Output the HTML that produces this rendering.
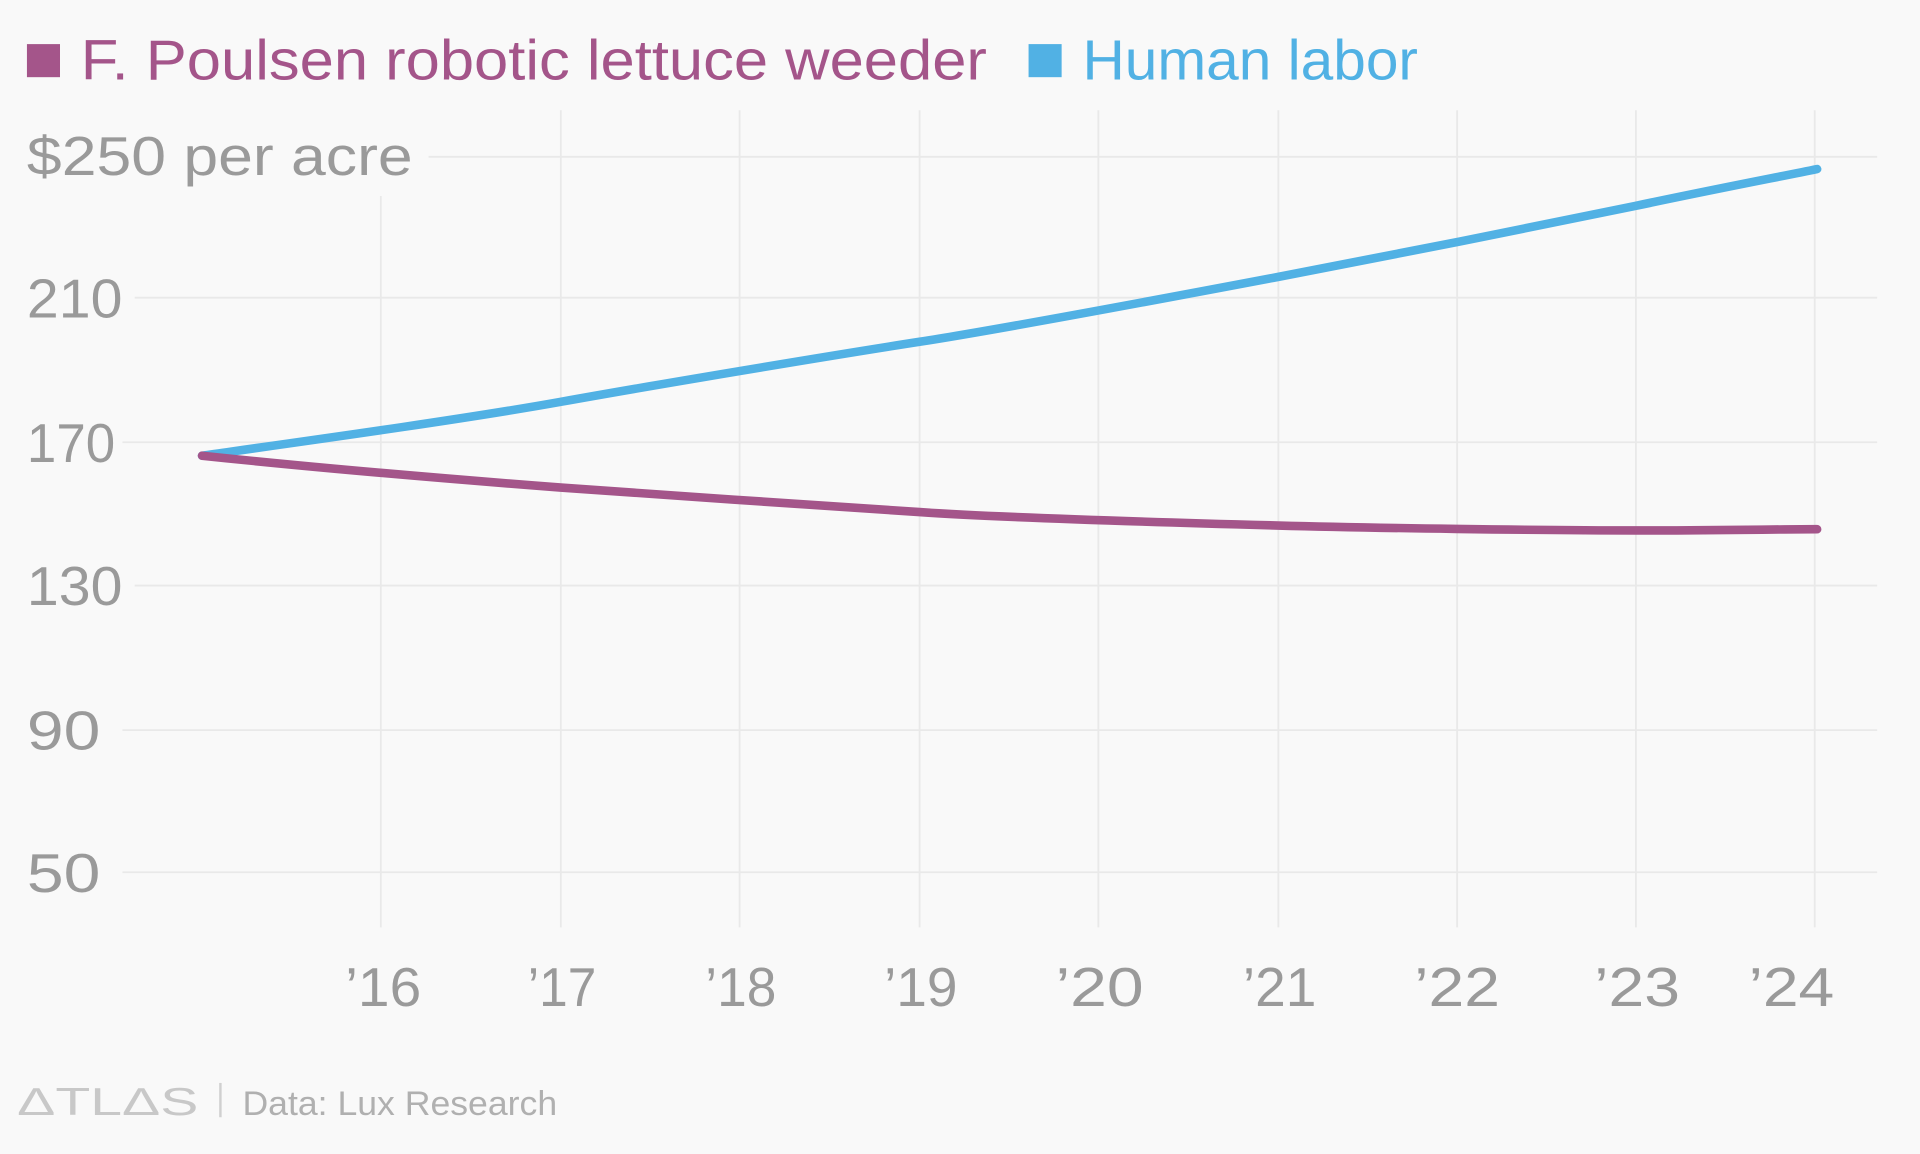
<!DOCTYPE html>
<html><head><style>html,body{margin:0;padding:0;background:#f9f9f9;}svg{display:block}</style></head><body>
<svg width="1920" height="1154" viewBox="0 0 1568 942" preserveAspectRatio="none" xmlns="http://www.w3.org/2000/svg" font-family="Liberation Sans, sans-serif">
<rect width="1568" height="942" fill="#f9f9f9"/>
<rect x="22" y="36" width="27" height="27" fill="#a4558a"/>
<text x="66" y="65" font-size="46" fill="#a4558a" textLength="740" lengthAdjust="spacingAndGlyphs">F. Poulsen robotic lettuce weeder</text>
<rect x="840" y="36" width="27" height="27" fill="#51b1e4"/>
<text x="884" y="65" font-size="46" fill="#51b1e4" textLength="274" lengthAdjust="spacingAndGlyphs">Human labor</text>
<g stroke="#e9e9e9" stroke-width="1.5">
<line x1="350" y1="128" x2="1533" y2="128"/>
<line x1="110" y1="243" x2="1533" y2="243"/>
<line x1="100" y1="361" x2="1533" y2="361"/>
<line x1="110" y1="478" x2="1533" y2="478"/>
<line x1="100" y1="596" x2="1533" y2="596"/>
<line x1="100" y1="712" x2="1533" y2="712"/>
<line x1="311" y1="160" x2="311" y2="757"/>
<line x1="458" y1="90" x2="458" y2="757"/>
<line x1="604" y1="90" x2="604" y2="757"/>
<line x1="751" y1="90" x2="751" y2="757"/>
<line x1="897" y1="90" x2="897" y2="757"/>
<line x1="1044" y1="90" x2="1044" y2="757"/>
<line x1="1190" y1="90" x2="1190" y2="757"/>
<line x1="1336" y1="90" x2="1336" y2="757"/>
<line x1="1482" y1="90" x2="1482" y2="757"/>
</g>
<g font-size="45" fill="#9a9a9a">
<text x="22" y="143" textLength="315" lengthAdjust="spacingAndGlyphs">$250 per acre</text>
<text x="22" y="259" textLength="78" lengthAdjust="spacingAndGlyphs">210</text>
<text x="22" y="377" textLength="72" lengthAdjust="spacingAndGlyphs">170</text>
<text x="22" y="494" textLength="78" lengthAdjust="spacingAndGlyphs">130</text>
<text x="22" y="612" textLength="60" lengthAdjust="spacingAndGlyphs">90</text>
<text x="22" y="728" textLength="60" lengthAdjust="spacingAndGlyphs">50</text>
</g>
<g font-size="45" fill="#9a9a9a">
<text x="282" y="821" textLength="62" lengthAdjust="spacingAndGlyphs">’16</text>
<text x="431" y="821" textLength="56" lengthAdjust="spacingAndGlyphs">’17</text>
<text x="576" y="821" textLength="58" lengthAdjust="spacingAndGlyphs">’18</text>
<text x="722" y="821" textLength="60" lengthAdjust="spacingAndGlyphs">’19</text>
<text x="862" y="821" textLength="72" lengthAdjust="spacingAndGlyphs">’20</text>
<text x="1015" y="821" textLength="60" lengthAdjust="spacingAndGlyphs">’21</text>
<text x="1155" y="821" textLength="70" lengthAdjust="spacingAndGlyphs">’22</text>
<text x="1302" y="821" textLength="70" lengthAdjust="spacingAndGlyphs">’23</text>
<text x="1428" y="821" textLength="70" lengthAdjust="spacingAndGlyphs">’24</text>
</g>
<path fill="none" stroke="#51b1e4" stroke-width="7" stroke-linecap="round" d="M165,372 C250,360 380,342 458,328 S680,290 751,279 S970,240 1044,226 S1260,184 1336,168 S1450,145 1484,138"/>
<path fill="none" stroke="#a4558a" stroke-width="7" stroke-linecap="round" d="M165,372 C260,382 380,392 458,398 S680,413 751,418 S970,427 1044,429 S1260,433 1336,433 S1450,432 1484,432"/>
<text x="14" y="910" font-size="32" fill="#c8c8c8" textLength="148" lengthAdjust="spacingAndGlyphs">ΔTLΔS</text>
<line x1="180" y1="884" x2="180" y2="912" stroke="#d0d0d0" stroke-width="2"/>
<text x="198" y="910" font-size="28" fill="#b0b0b0" textLength="257" lengthAdjust="spacingAndGlyphs">Data:  Lux Research</text>
</svg>
</body></html>
